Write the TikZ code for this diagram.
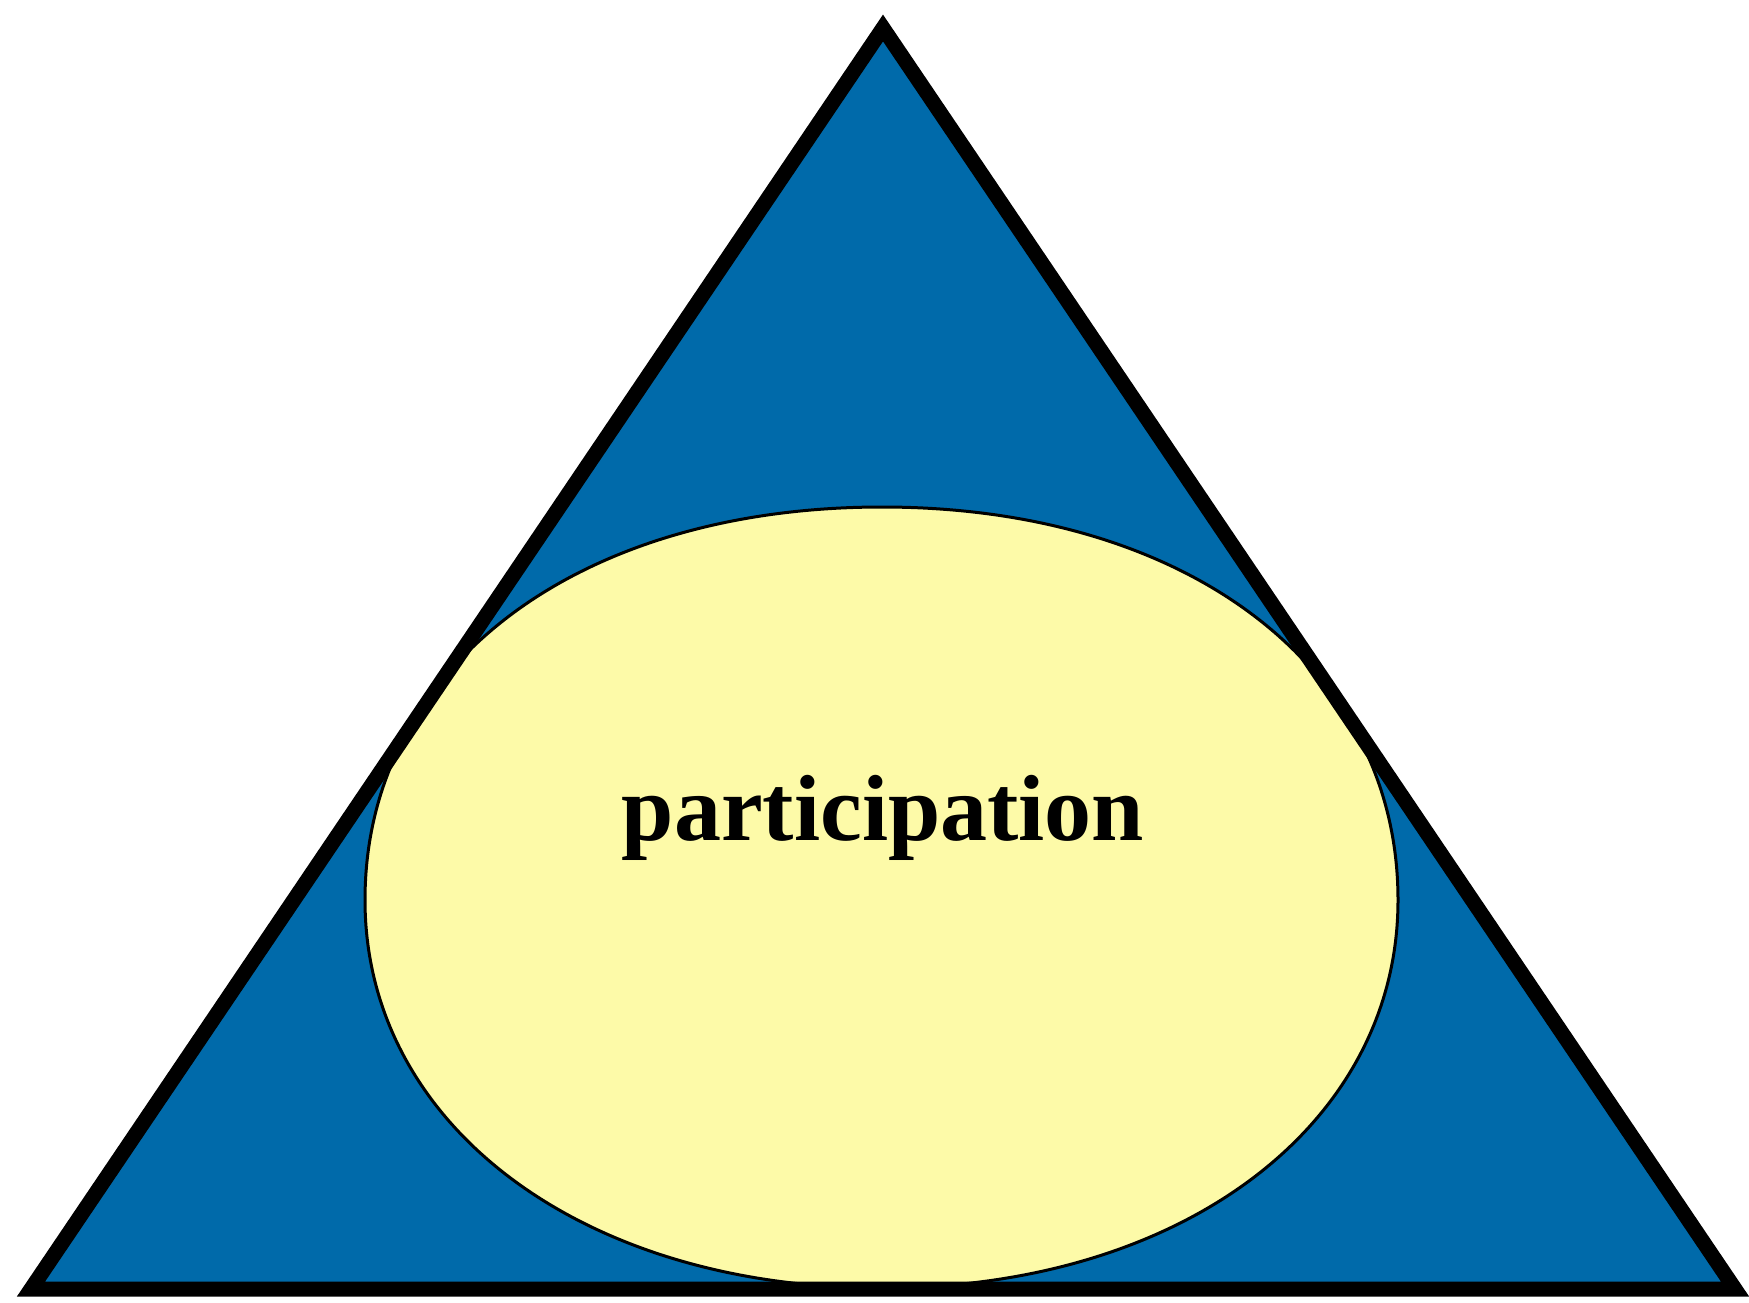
\documentclass[tikz,border=0pt]{standalone}
\usepackage{fontspec}
\setmainfont{Liberation Serif}

\begin{document}
\tikzset{every picture/.style={line width=0.75pt}}

\begin{tikzpicture}[x=0.5pt,y=0.5pt,yscale=-1,xscale=1]
%set diagram left start at 0, and has height of 1302
\useasboundingbox (0,0) rectangle (1749,1302);

%Shape: Triangle [id:dp_base]
\fill  [fill={rgb, 255:red, 0; green, 106; blue, 170 }  ] (883,28) -- (1735,1289) -- (31,1289) -- cycle ;
%Shape: Ellipse [id:dp_oval]
\draw  [line width=1.5pt ,fill={rgb, 255:red, 253; green, 250; blue, 168 }  ] (365,900) .. controls (365,666) and (578,507) .. (882,507) .. controls (1186,507) and (1398,666) .. (1398,900) .. controls (1398,1125) and (1182,1288) .. (882,1288) .. controls (582,1288) and (365,1125) .. (365,900) -- cycle ;
%Shape: Triangle [id:dp_edge]
\draw  [line width=7.5pt ] (883,28) -- (1735,1289) -- (31,1289) -- cycle ;

% Text Node
\draw (883,840) node [anchor=base] [font=\fontsize{47}{56}\selectfont\bfseries] (lbl) {participation};

\end{tikzpicture}
\end{document}
